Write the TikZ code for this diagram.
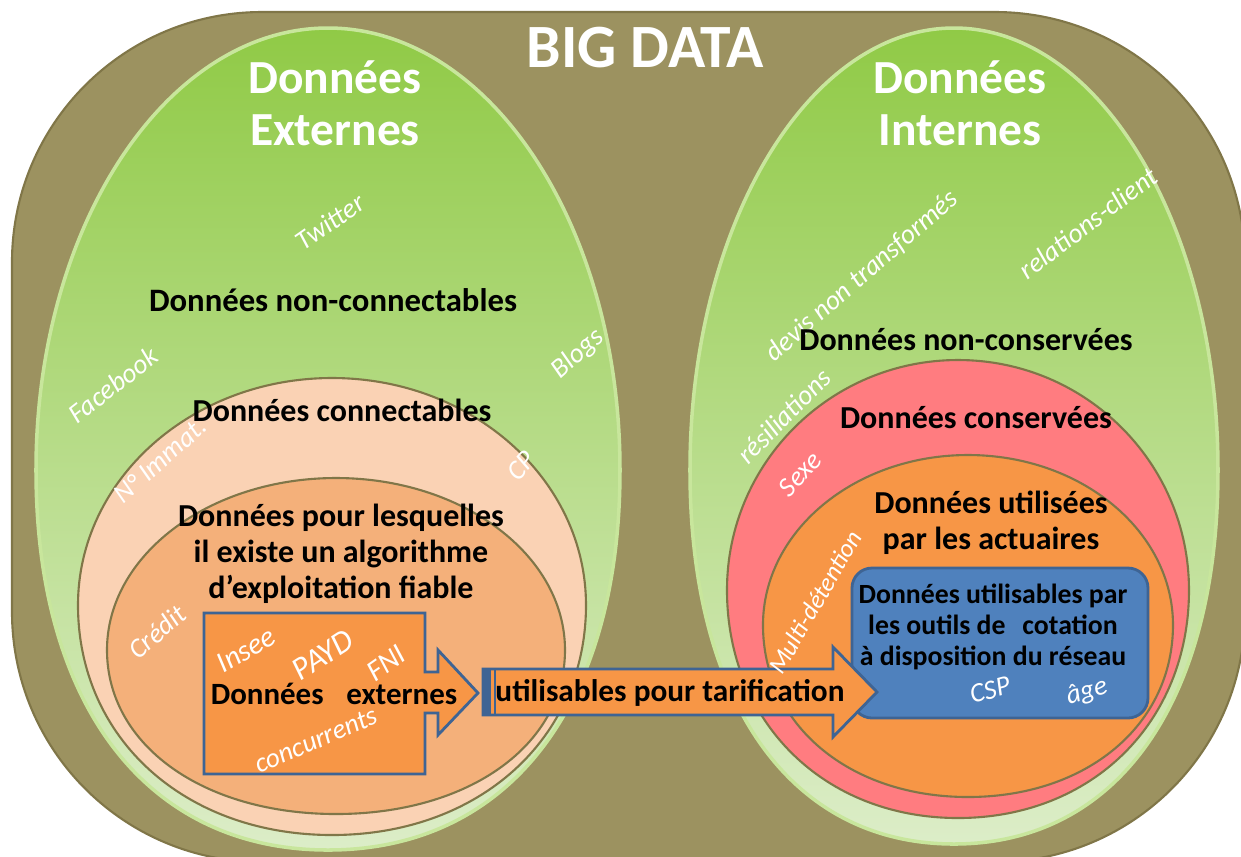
\documentclass[tikz,border=0pt]{standalone}
\usepackage{fontspec}
\setmainfont{Carlito}

\definecolor{olivebg}{RGB}{156,146,96}
\definecolor{oliveedge}{RGB}{128,118,72}
\definecolor{greentop}{RGB}{144,202,70}
\definecolor{greenmid}{RGB}{178,217,120}
\definecolor{greenbot}{RGB}{220,237,200}
\definecolor{greenrim}{RGB}{200,230,156}
\definecolor{peach}{RGB}{250,210,180}
\definecolor{lightorange}{RGB}{244,176,122}
\definecolor{deeporange}{RGB}{247,150,70}
\definecolor{salmon}{RGB}{255,124,128}
\definecolor{boxblue}{RGB}{79,129,189}
\definecolor{boxedge}{RGB}{62,100,148}

% contour d'ensemble : demi-ellipse en haut, bas plus plein
% #1,#2 centre  #3 demi-largeur  #4 hauteur haut  #5 hauteur bas  #6 rondeur du bas
\newcommand\eggpath[6]{({#1-#3},#2)
  arc[start angle=180,end angle=360,x radius=#3,y radius=#4]
  .. controls ({#1+#3},{#2+#6*#5}) and ({#1+#6*#3},{#2+#5}) .. ({#1},{#2+#5})
  .. controls ({#1-#6*#3},{#2+#5}) and ({#1-#3},{#2+#6*#5}) .. cycle}

\tikzset{
  greenset/.style={top color=greentop,middle color=greenmid,bottom color=greenbot,
                   draw=greenrim,line width=1pt},
  innerset/.style={draw=oliveedge,line width=0.6pt},
  bigtitle/.style={text=white,font=\bfseries\fontsize{17.5}{20}\selectfont,inner sep=0pt},
  headlbl/.style={text=white,font=\bfseries\fontsize{13.5}{14.7}\selectfont,align=center,inner sep=0pt},
  setlbl/.style={text=black,font=\bfseries\fontsize{9.1}{10.2}\selectfont,align=center,inner sep=0pt},
  boxlbl/.style={text=black,font=\bfseries\fontsize{7.9}{8.9}\selectfont,align=center,inner sep=0pt},
  tag/.style={text=white,font=\itshape\fontsize{7.8}{9}\selectfont,inner sep=0pt},
  arrowshape/.style={fill=deeporange,draw=boxedge,line width=0.8pt,line join=miter}
}

\begin{document}
\begin{tikzpicture}[x=0.01cm,y=-0.01cm]
  \useasboundingbox (0,0) rectangle (1241,856);

  % fond
  \draw[fill=olivebg,draw=oliveedge,line width=0.6pt,rounded corners=2.5cm]
    (12,12) rectangle (1245,862);

  % donnees externes
  \path[greenset] \eggpath{328}{470}{292}{442}{380}{0.62};
  \path[innerset,fill=peach] \eggpath{332}{605}{254}{227}{230}{0.58};
  \path[innerset,fill=lightorange] \eggpath{336}{650}{229}{172}{164}{0.58};

  % donnees internes
  \path[greenset] \eggpath{954}{470}{264}{442}{374}{0.62};
  \path[innerset,fill=salmon] \eggpath{958}{590}{231}{230}{228}{0.58};
  \path[innerset,fill=deeporange] \eggpath{968}{625}{205}{170}{172}{0.58};

  % outils de cotation
  \draw[fill=boxblue,draw=boxedge,line width=0.8pt,rounded corners=0.2cm]
    (852,568) rectangle (1148,718);

  % fleches
  \draw[arrowshape] (204,613) -- (425,613) -- (425,672) -- (438,672) -- (438,650)
    -- (478,693) -- (438,735) -- (438,713) -- (425,713) -- (425,774) -- (204,774) -- cycle;
  \draw[arrowshape] (483,669) -- (833,669) -- (833,647) -- (877,692)
    -- (833,737) -- (833,715) -- (483,715) -- cycle;
  \fill[boxedge] (483,669) rectangle (491,715);
  \draw[boxedge,line width=0.8pt] (495,669) -- (495,715);

  % textes
  \node[bigtitle] (bigdata) at (645,48) {BIG DATA};
  \node[headlbl] (ext) at (335,103) {Données\\Externes};
  \node[headlbl] (int) at (960,103) {Données\\Internes};

  \node[tag,rotate=35] (twitter) at (330,222) {Twitter};
  \node[setlbl,font=\bfseries\fontsize{9.3}{10.2}\selectfont] (nonconn) at (333,300) {Données non-connectables};
  \node[tag,rotate=38] (facebook) at (113,385) {Facebook};
  \node[tag,rotate=42] (blogs) at (578,354) {Blogs};
  \node[setlbl] (conn) at (342,410) {Données connectables};
  \node[tag,rotate=42] (immat) at (160,460) {N° Immat.};
  \node[tag,rotate=48] (cp) at (521,466) {CP};
  \node[setlbl] (algo) at (341,554) {Données pour lesquelles\\il existe un algorithme\\d’exploitation fiable};
  \node[tag,rotate=41] (credit) at (157,632) {Crédit};
  \node[tag,rotate=30,font=\itshape\fontsize{8.4}{9}\selectfont] (insee) at (246,650) {Insee};
  \node[tag,rotate=33,font=\itshape\fontsize{9.2}{10}\selectfont] (payd) at (323,655) {PAYD};
  \node[tag,rotate=35,font=\itshape\fontsize{8.4}{9}\selectfont] (fni) at (386,663) {FNI};
  \node[setlbl,font=\bfseries\fontsize{8.8}{10}\selectfont] (extlbl) at (334,694) {Données\hspace{4.5pt} externes};
  \node[tag,rotate=23] (concur) at (316,740) {concurrents};
  \node[setlbl,font=\bfseries\fontsize{8.9}{10}\selectfont] (tarif) at (670,693) {utilisables pour tarification};

  \node[tag,rotate=41] (devis) at (862,276) {devis non transformés};
  \node[tag,rotate=37] (relations) at (1088,223) {relations-client};
  \node[setlbl] (nonconsv) at (966,340) {Données non-conservées};
  \node[tag,rotate=45] (resil) at (784,416) {résiliations};
  \node[setlbl] (consv) at (976,418) {Données conservées};
  \node[tag,rotate=47] (sexe) at (800,474) {Sexe};
  \node[tag,rotate=60,font=\itshape\fontsize{7.2}{8}\selectfont] (multi) at (815,602) {Multi-détention};
  \node[setlbl] (actu) at (991,523) {Données utilisées\\par les actuaires};
  \node[boxlbl] (cotation) at (993,627) {Données utilisables par\\les outils de\hspace{3pt} cotation\\à disposition du réseau};
  \node[tag,rotate=15] (csp) at (990,690) {CSP};
  \node[tag,rotate=15] (age) at (1087,692) {âge};
\end{tikzpicture}
\end{document}
